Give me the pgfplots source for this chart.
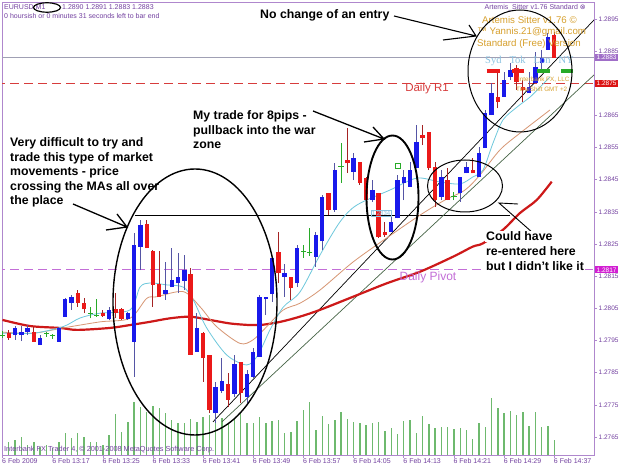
\documentclass[border=0pt]{standalone}
\usepackage{pgfplots}
\pgfplotsset{compat=1.18}
\usepackage{pgfplotstable}
\usepackage{fontspec}
\setmainfont{Liberation Sans}
\newfontfamily\dejavu{DejaVu Sans}
\newfontfamily\serifc{Liberation Serif}

\definecolor{framec}{RGB}{175,135,205}
\definecolor{labc}{RGB}{115,65,160}
\definecolor{bullc}{RGB}{25,25,235}
\definecolor{bearc}{RGB}{235,25,25}
\definecolor{bullw}{RGB}{85,85,165}
\definecolor{bearw}{RGB}{165,35,35}
\definecolor{dojic}{RGB}{40,170,40}
\definecolor{volc}{RGB}{110,185,110}
\definecolor{ma1}{RGB}{205,25,25}
\definecolor{ma2}{RGB}{110,200,220}
\definecolor{ma3}{RGB}{215,150,115}
\definecolor{r1c}{RGB}{215,60,60}
\definecolor{pivc}{RGB}{195,110,215}
\definecolor{bidc}{RGB}{160,160,180}
\definecolor{orgc}{RGB}{215,160,45}
\definecolor{sydc}{RGB}{140,195,225}
\definecolor{trc}{RGB}{70,100,70}
\definecolor{box1}{RGB}{160,110,200}
\definecolor{box2}{RGB}{220,20,20}
\definecolor{box3}{RGB}{210,30,210}

\pgfplotsset{
  cwick/.style={mark=none, draw=none,
    error bars/.cd, y dir=plus, y explicit, error mark=none,
    error bar style={draw=#1, line width=1pt}},
  cbody/.style={mark=none, draw=none,
    error bars/.cd, y dir=plus, y explicit, error mark=none,
    error bar style={draw=#1, line width=4.4pt}},
}

\pgfplotstableread{
m O H L C
2 1.27967 1.27995 1.27952 1.27989
3 1.27967 1.27995 1.27948 1.27976
4 1.27975 1.27998 1.27967 1.27990
6 1.27936 1.27967 1.27936 1.27959
9 1.27946 1.27993 1.27946 1.27989
10 1.28024 1.28082 1.28024 1.28078
11 1.28068 1.28092 1.28045 1.28086
17 1.28016 1.28055 1.28014 1.28045
20 1.28016 1.28040 1.28014 1.28035
21 1.27946 1.28283 1.27837 1.28247
22 1.28242 1.28325 1.28169 1.28309
26 1.28095 1.28195 1.28076 1.28107
27 1.28115 1.28237 1.28115 1.28138
28 1.28128 1.28221 1.28097 1.28148
29 1.28136 1.28216 1.28107 1.28169
31 1.27915 1.28035 1.27915 1.27988
34 1.27724 1.27822 1.27694 1.27804
35 1.27794 1.27895 1.27786 1.27824
37 1.27784 1.27905 1.27775 1.27877
39 1.27775 1.27858 1.27755 1.27846
40 1.27837 1.27927 1.27832 1.27915
41 1.27900 1.28092 1.27900 1.28086
42 1.28078 1.28086 1.28029 1.28086
43 1.28095 1.28206 1.28071 1.28206
45 1.28149 1.28188 1.28086 1.28160
47 1.28128 1.28247 1.28116 1.28237
50 1.28210 1.28288 1.28180 1.28278
51 1.28259 1.28403 1.28231 1.28397
53 1.28356 1.28502 1.28350 1.28480
56 1.28475 1.28533 1.28449 1.28517
59 1.28387 1.28449 1.28382 1.28418
62 1.28288 1.28351 1.28288 1.28320
63 1.28330 1.28465 1.28330 1.28449
64 1.28439 1.28480 1.28387 1.28459
65 1.28428 1.28506 1.28428 1.28480
66 1.28486 1.28620 1.28486 1.28568
70 1.28397 1.28480 1.28387 1.28459
73 1.28408 1.28459 1.28382 1.28459
74 1.28470 1.28506 1.28470 1.28491
76 1.28459 1.28553 1.28459 1.28532
77 1.28548 1.28667 1.28548 1.28657
78 1.28651 1.28750 1.28651 1.28719
80 1.28708 1.28786 1.28708 1.28760
81 1.28771 1.28812 1.28760 1.28791
84 1.28719 1.28786 1.28719 1.28739
85 1.28750 1.28848 1.28750 1.28802
86 1.28812 1.28854 1.28791 1.28828
87 1.28854 1.28906 1.28854 1.28895
}\bull

\pgfplotstableread{
m O H L C
1 1.27974 1.27983 1.27952 1.27959
5 1.27976 1.27992 1.27946 1.27946
12 1.28097 1.28107 1.28055 1.28066
13 1.28068 1.28081 1.28035 1.28047
16 1.28036 1.28045 1.28024 1.28026
18 1.28047 1.28097 1.28019 1.28036
19 1.28047 1.28050 1.28014 1.28016
23 1.28312 1.28325 1.28237 1.28237
24 1.28229 1.28231 1.28055 1.28123
25 1.28126 1.28229 1.28086 1.28086
30 1.28157 1.28175 1.27905 1.27905
32 1.27974 1.27977 1.27822 1.27895
33 1.27905 1.27905 1.27724 1.27734
36 1.27815 1.27848 1.27744 1.27765
38 1.27882 1.27884 1.27755 1.27786
44 1.28226 1.28288 1.28128 1.28159
46 1.28148 1.28148 1.28076 1.28113
52 1.28408 1.28408 1.28340 1.28356
55 1.28511 1.28611 1.28471 1.28501
57 1.28506 1.28506 1.28434 1.28440
58 1.28455 1.28459 1.28378 1.28387
60 1.28408 1.28408 1.28269 1.28273
61 1.28288 1.28320 1.28273 1.28278
67 1.28589 1.28620 1.28558 1.28579
68 1.28599 1.28599 1.28480 1.28486
69 1.28491 1.28506 1.28366 1.28387
71 1.28449 1.28486 1.28387 1.28387
75 1.28480 1.28517 1.28470 1.28470
79 1.28708 1.28781 1.28672 1.28693
82 1.28797 1.28807 1.28729 1.28755
83 1.28739 1.28760 1.28693 1.28729
88 1.28900 1.28910 1.28830 1.28830
}\bear

\pgfplotstableread{
m O H L C
0 1.27967 1.27980 1.27958 1.27967
7 1.27972 1.27977 1.27962 1.27972
8 1.27967 1.27970 1.27955 1.27967
14 1.28035 1.28055 1.28019 1.28035
15 1.28029 1.28079 1.28024 1.28029
48 1.28226 1.28247 1.28207 1.28226
49 1.28225 1.28300 1.28213 1.28225
54 1.28491 1.28564 1.28440 1.28491
72 1.28399 1.28412 1.28387 1.28399
}\doji

\pgfplotstableread{
m v
0 10
1 13
2 15
3 18
4 10
5 13
6 8
7 10
8 7
9 13
10 22
11 17
12 22
13 18
14 13
15 13
16 10
17 20
18 41
19 23
20 33
21 53
22 48
23 43
24 49
25 47
26 42
27 35
28 32
29 32
30 36
31 33
32 38
33 40
34 35
35 37
36 32
37 36
38 42
39 32
40 32
41 38
42 32
43 34
44 35
45 22
46 23
47 34
48 45
49 53
50 25
51 39
52 31
53 35
54 43
55 36
56 33
57 32
58 30
59 32
60 33
61 24
62 27
63 21
64 34
65 35
66 22
67 39
68 31
69 27
70 28
71 28
72 26
73 27
74 25
75 16
76 32
77 28
78 57
79 47
80 42
81 44
82 40
83 43
84 29
85 43
86 28
87 29
88 15
}\vol

\begin{document}
\begin{tikzpicture}
\useasboundingbox[fill=white] (0,0) rectangle (625pt,469pt);

% volume
\begin{axis}[at={(2pt,14pt)}, anchor=south west, width=592pt, height=452.5pt,
  scale only axis, xmin=-0.08, xmax=94.34, ymin=0, ymax=452.5, hide axis]
\addplot[ycomb, draw=volc, line width=1.4pt] table[x=m,y=v] {\vol};
\end{axis}

% price
\begin{axis}[at={(2pt,14pt)}, anchor=south west, width=592pt, height=452.5pt,
  scale only axis, xmin=-0.08, xmax=94.34, ymin=1.275939, ymax=1.290013,
  axis line style={draw=framec, line width=0.8pt},
  tick align=outside, major tick length=3pt,
  tick style={draw=framec, line width=0.6pt},
  xtick pos=left, ytick pos=right, yticklabel pos=right,
  xtick={0,8,16,24,32,40,48,56,64,72,80,88},
  xticklabels={6 Feb 2009,6 Feb 13:17,6 Feb 13:25,6 Feb 13:33,6 Feb 13:41,6 Feb 13:49,6 Feb 13:57,6 Feb 14:05,6 Feb 14:13,6 Feb 14:21,6 Feb 14:29,6 Feb 14:37},
  ytick={1.2765,1.2775,1.2785,1.2795,1.2805,1.2815,1.2825,1.2835,1.2845,1.2855,1.2865,1.2875,1.2885,1.2895},
  yticklabels={1.2765,1.2775,1.2785,1.2795,1.2805,1.2815,1.2825,1.2835,1.2845,1.2855,1.2865,,1.2885,1.2895},
  xticklabel style={font=\fontsize{7}{8}\selectfont, text=labc, anchor=north west, inner sep=0.5pt, xshift=-1pt},
  yticklabel style={font=\fontsize{6.5}{7}\selectfont, text=labc, anchor=west, inner sep=0.5pt, xshift=1pt},
]
% horizontal levels
\addplot[bidc, line width=0.8pt] coordinates {(-1,1.2883) (95,1.2883)};
\addplot[r1c, line width=1.3pt, dash pattern=on 9pt off 5pt] coordinates {(-1,1.2875) (95,1.2875)};
\addplot[pivc, line width=1.2pt, dash pattern=on 9pt off 5pt] coordinates {(-1,1.2817) (95,1.2817)};
\addplot[black, line width=0.9pt] coordinates {(21.1,1.28340) (81,1.28340)};
% trend lines
\addplot[black, line width=0.7pt] coordinates {(33.57,1.27697) (94.34,1.28947)};
\addplot[trc, line width=0.7pt] coordinates {(35.0,1.27697) (94.34,1.28776)};
% moving averages
\addplot[ma1, line width=2.2pt, smooth] coordinates {
(0,1.28014) (4.4,1.27995) (9.2,1.27989) (11.9,1.27983) (17.1,1.27989) (20.3,1.27998)
(23.5,1.28008) (26.7,1.28019) (29.9,1.28024) (33.1,1.28014) (36.3,1.28003) (39.5,1.27998)
(41.1,1.27998) (44.3,1.28008) (47.4,1.28024) (50.6,1.28045) (55.9,1.28086) (61.3,1.28128)
(66.6,1.28164) (71.9,1.28211) (75.0,1.28242) (76.6,1.28252) (79.8,1.28294) (82.5,1.28346)
(85.2,1.28387) (87.6,1.28444)};
\addplot[ma3, line width=0.8pt, smooth] coordinates {
(0,1.27976) (5,1.27973) (9.65,1.27989) (15.55,1.28008) (20.33,1.28019) (23.0,1.28081)
(24.6,1.28086) (28.84,1.28102) (31.5,1.28055) (34.16,1.27993) (37.88,1.27941) (39.95,1.27952)
(42.14,1.27993) (44.78,1.28045) (47.45,1.28066) (50.64,1.28107) (55.9,1.28194) (61.28,1.28269)
(66.59,1.28340) (70.57,1.28387) (73.76,1.28418) (76.16,1.28465) (79.35,1.28543) (82.54,1.28595)
(87.32,1.28667)};
\addplot[ma2, line width=0.8pt, smooth] coordinates {
(0,1.27973) (5,1.27973) (9.65,1.27993) (12.36,1.28020) (15.55,1.28035) (20.33,1.28045)
(21.93,1.28116) (23.52,1.28129) (26.19,1.28123) (28.84,1.28116) (30.43,1.28076) (32.57,1.27989)
(35.76,1.27905) (38.95,1.27874) (40.75,1.27905) (42.66,1.27983) (44.78,1.28054) (47.45,1.28101)
(50.64,1.28216) (53.83,1.28319) (56.49,1.28371) (61.8,1.28418) (66.06,1.28455) (69.78,1.28443)
(72.97,1.28437) (75.04,1.28459) (76.63,1.28480) (78.23,1.28564) (79.82,1.28636) (82.06,1.28676)
(84.13,1.28707) (85.73,1.28738) (87.32,1.28770)};
% candles: wicks
\addplot[cwick=bullw] table[x=m, y=L, y error expr=\thisrow{H}-\thisrow{L}] {\bull};
\addplot[cwick=bearw] table[x=m, y=L, y error expr=\thisrow{H}-\thisrow{L}] {\bear};
\addplot[cwick=dojic] table[x=m, y=L, y error expr=\thisrow{H}-\thisrow{L}] {\doji};
% candles: bodies
\addplot[cbody=bullc] table[x=m, y=O, y error expr=\thisrow{C}-\thisrow{O}] {\bull};
\addplot[cbody=bearc] table[x=m, y=C, y error expr=\thisrow{O}-\thisrow{C}] {\bear};
\addplot[only marks, mark=-, mark size=2.6pt, mark options={draw=dojic, line width=1pt}]
  table[x=m, y=O] {\doji};
% session markers
\addplot[bearc, line width=3.5pt] coordinates {(77.2,1.28788) (79.3,1.28788)};
\addplot[bearc, line width=3.5pt] coordinates {(81.2,1.28788) (83.2,1.28788)};
\addplot[dojic, line width=3.5pt] coordinates {(85.2,1.28788) (87.3,1.28788)};
\addplot[dojic, line width=3.5pt] coordinates {(89.1,1.28788) (91.0,1.28788)};
\end{axis}

% overlays in image pixel space
\begin{scope}[x=1pt,y=-1pt,shift={(0pt,469pt)}]
% header
\node[anchor=west, inner sep=0pt, text=labc, font=\fontsize{7}{8}\selectfont] at (4,7.5) {EURUSD,M1};
\node[anchor=west, inner sep=0pt, text=labc, font=\fontsize{7}{8}\selectfont] at (62,7.5) {1.2890 1.2891 1.2883 1.2883};
\node[anchor=west, inner sep=0pt, text=labc, font=\fontsize{7}{8}\selectfont] at (4,16) {0 hoursish or 0 minutes 31 seconds left to bar end};
\draw[line width=1.2pt] (47,7.5) ellipse [x radius=13.5pt, y radius=4.7pt];
\node[anchor=east, inner sep=0pt, text=labc, font=\fontsize{7}{8}\selectfont] at (586,8) {Artemis\_Sitter v1.76 Standard {\dejavu ⊗}};
% indicator texts
\node[anchor=west, inner sep=0pt, text=orgc, font=\fontsize{9.7}{11}\selectfont] at (482,20) {Artemis Sitter v1.76 ©};
\node[anchor=west, inner sep=0pt, text=orgc, font=\fontsize{9.7}{11}\selectfont] at (477,32) {™ Yannis.21@gmail.com};
\node[anchor=west, inner sep=0pt, text=orgc, font=\fontsize{9.7}{11}\selectfont] at (477,44) {Standard (Free) Version};
\node[anchor=west, inner sep=0pt, text=sydc, font=\serifc\fontsize{10.5}{12}\selectfont] at (485,61) {Syd\hspace{8pt}Tok\hspace{8pt}Lon\hspace{8pt}NY};
\node[anchor=west, inner sep=0pt, text=orgc, font=\fontsize{6.3}{7}\selectfont] at (518,80) {Interbank FX, LLC};
\node[anchor=west, inner sep=0pt, text=orgc, font=\fontsize{6.3}{7}\selectfont] at (516,89) {TimeShift GMT +2};
% level labels
\node[inner sep=0pt, text=r1c, font=\fontsize{11.5}{13}\selectfont] at (427,89) {Daily R1};
\node[inner sep=0pt, text=pivc, font=\fontsize{12}{14}\selectfont] at (428,277.5) {Daily Pivot};
\node[anchor=west, inner xsep=1.5pt, inner ysep=1pt, fill=box1, text=white, font=\fontsize{6.5}{7}\selectfont] at (595,57.6) {1.2883};
\node[anchor=west, inner xsep=1.5pt, inner ysep=1pt, fill=box2, text=white, font=\fontsize{6.5}{7}\selectfont] at (595,83.3) {1.2875};
\node[anchor=west, inner xsep=1.5pt, inner ysep=1pt, fill=box3, text=white, font=\fontsize{6.5}{7}\selectfont] at (595,269.8) {1.2817};
\node[draw=sydc, inner xsep=1pt, inner ysep=0.8pt, text=sydc, font=\fontsize{6}{7}\selectfont] at (381,213) {1.2834};
\draw[dojic, line width=0.8pt] (395,163) rectangle (400,168);
\node[anchor=base west, inner sep=0pt, text=labc, font=\fontsize{7.3}{8}\selectfont] at (4,452) {Interbank FX Trader 4, © 2001-2008 MetaQuotes Software Corp.};
% ellipses
\draw[line width=1.4pt] (195,302) ellipse [x radius=82pt, y radius=133pt];
\draw[line width=1.9pt] (392.5,197.5) ellipse [x radius=26pt, y radius=62pt];
\draw[line width=1pt] (465,186) ellipse [x radius=37.5pt, y radius=26pt];
\draw[line width=1pt] (520,71) ellipse [x radius=52pt, y radius=61pt];
% arrows
\draw[line width=1.3pt] (73,204) -- (127,227) (117,214) -- (127,227) -- (106,230);
\draw[line width=1.3pt] (313,111) -- (384,139) (373,127) -- (384,139) -- (364,142);
\draw[line width=1.1pt] (394,16) -- (476,36) (469,25) -- (476,36) -- (443,40);
\draw[line width=0.9pt] (518,204) -- (499,203) -- (533,233);
% annotation texts
\begin{scope}[every node/.style={anchor=base west, inner sep=0pt, font=\bfseries\fontsize{12.3}{14}\selectfont}]
\node at (10,147) {Very difficult to try and};
\node at (10,161.5) {trade this type of market};
\node at (10,176) {movements - price};
\node at (10,190.5) {crossing the MAs all over};
\node at (10,205) {the place};
\node at (193,120) {My trade for 8pips -};
\node at (193,134.5) {pullback into the war};
\node at (193,149) {zone};
\node at (260,19) {No change of an entry};
\node[fill=white, inner sep=1pt] at (485,241) {Could have};
\node[fill=white, inner sep=1pt] at (485,256) {re-entered here};
\node[fill=white, inner sep=1pt] at (485,271) {but I didn't like it};
\end{scope}
\end{scope}
\end{tikzpicture}
\end{document}
